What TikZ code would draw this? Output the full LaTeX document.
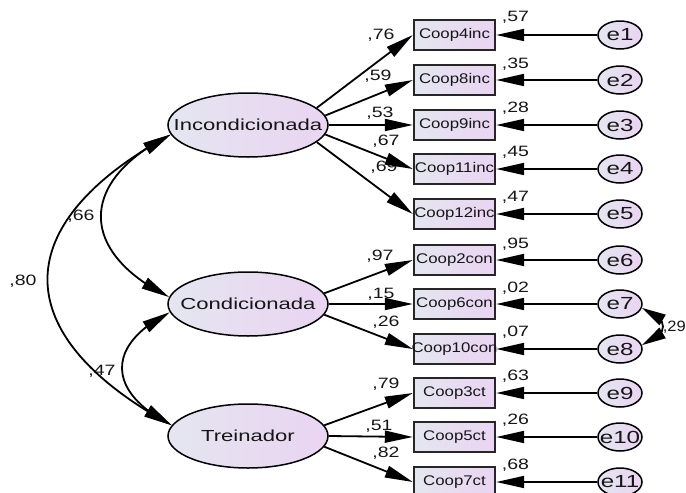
\documentclass[tikz,border=0pt]{standalone}
\usepackage{fontspec}
\setmainfont{Liberation Sans}
% Horizontally widened faces for the diagram labels
\newfontfamily\latentfont[FakeStretch=1.38]{Liberation Sans}
\newfontfamily\itemfont[FakeStretch=1.2]{Liberation Sans}
\newfontfamily\coeffont[FakeStretch=1.3]{Liberation Sans}
\newfontfamily\narrowcoeffont[FakeStretch=1.1]{Liberation Sans}
\usetikzlibrary{shapes.geometric,arrows.meta,bending}

\definecolor{fillL}{RGB}{228,230,240}
\definecolor{fillR}{RGB}{234,212,242}
\definecolor{ink}{RGB}{22,22,22}

% node text that may spill over its border without widening the shape
\newcommand\bare[1]{\makebox[0pt]{#1}}

\tikzset{
  latent/.style={ellipse, draw=black, line width=1.5pt, left color=fillL, right color=fillR,
    minimum width=160pt, minimum height=64pt, inner sep=0pt,
    font=\latentfont\fontsize{16}{16}\selectfont, text=ink},
  item/.style={rectangle, draw=black!85, line width=2.4pt, left color=fillL, right color=fillR,
    minimum width=81pt, minimum height=30pt, inner sep=0pt,
    font=\itemfont\fontsize{14}{14}\selectfont, text=ink},
  err/.style={ellipse, draw=black, line width=1.5pt, left color=fillL, right color=fillR,
    minimum width=44pt, minimum height=28pt, inner sep=0pt,
    font=\latentfont\fontsize{17.5}{17.5}\selectfont, text=ink},
  coef/.style={inner sep=0pt, font=\coeffont\fontsize{15}{15}\selectfont, text=ink},
  regr/.style={line width=1.8pt, -{Triangle[length=28pt,width=12pt]}},
  covar/.style={line width=1.8pt,
    {Triangle[length=28pt,width=12pt]}-{Triangle[length=28pt,width=12pt]}},
  ecovar/.style={line width=1.8pt,
    {Triangle[length=24pt,width=12pt]}-{Triangle[length=24pt,width=12pt]}},
}

\begin{document}
\begin{tikzpicture}[x=1pt,y=-1pt]
\path[use as bounding box, clip] (0,0) rectangle (686,493);

% latent factors
\node[latent] (inc)   at (248,125) {\bare{Incondicionada}};
\node[latent] (cond)  at (248,304) {\bare{Condicionada}};
\node[latent] (trein) at (248,436) {\bare{Treinador}};

% observed indicators
\node[item] (b1)  at (454.5,35)  {\bare{Coop4inc}};
\node[item] (b2)  at (454.5,80)  {\bare{Coop8inc}};
\node[item] (b3)  at (454.5,125) {\bare{Coop9inc}};
\node[item] (b4)  at (454.5,169) {\bare{Coop11inc}};
\node[item] (b5)  at (454.5,214) {\bare{Coop12inc}};
\node[item] (b6)  at (454.5,260) {\bare{Coop2con}};
\node[item] (b7)  at (454.5,304) {\bare{Coop6con}};
\node[item] (b8)  at (454.5,349) {\bare{Coop10con}};
\node[item] (b9)  at (454.5,393) {\bare{Coop3ct}};
\node[item] (b10) at (454.5,437) {\bare{Coop5ct}};
\node[item] (b11) at (454.5,482) {\bare{Coop7ct}};

% error terms
\foreach \i/\y in {1/35,2/80,3/125,4/169,5/214,6/260,7/304,8/349,9/393,10/437,11/482}
  \node[err] (e\i) at (620,\y) {\bare{e\i}};

% standardized loadings
\node[coef] (l1)  at (381,35)  {,76};
\node[coef] (l2)  at (378,76)  {,59};
\node[coef] (l3)  at (380,113) {,53};
\node[coef] (l4)  at (386,141) {,67};
\node[coef] (l5)  at (384,167) {,69};
\node[coef] (l6)  at (380,256) {,97};
\node[coef] (l7)  at (381,294) {,15};
\node[coef] (l8)  at (386,322) {,26};
\node[coef] (l9)  at (386,384) {,79};
\node[coef] (l10) at (379,426) {,51};
\node[coef] (l11) at (386,453) {,82};

% squared multiple correlations
\foreach \i/\y/\v in {1/17/57,2/64/35,3/108/28,4/152/45,5/197/47,6/244/95,
                      7/288/02,8/332/07,9/376/63,10/420/26,11/465/68}
  \node[coef] (r\i) at (515.5,\y) {,\v};

% correlations
\node[coef] (c1) at (81,216)  {,66};
\node[coef] (c2) at (23,281)  {,80};
\node[coef] (c3) at (102,371) {,47};
\node[coef, font=\narrowcoeffont\fontsize{15}{15}\selectfont, anchor=east] (c4) at (686,327) {,29};

% factor loadings
\draw[regr] (inc.14)  -- (b1.west);
\draw[regr] (inc.7)   -- (b2.west);
\draw[regr] (inc.0)   -- (b3.west);
\draw[regr] (inc.353) -- (b4.west);
\draw[regr] (inc.346) -- (b5.west);
\draw[regr] (cond.8)   -- (b6.west);
\draw[regr] (cond.0)   -- (b7.west);
\draw[regr] (cond.352) -- (b8.west);
\draw[regr] (trein.8)   -- (b9.west);
\draw[regr] (trein.0)   -- (b10.west);
\draw[regr] (trein.352) -- (b11.west);

% error paths
\foreach \i in {1,...,11}
  \draw[regr] (e\i) -- (b\i);

% factor covariances
\draw[covar] (inc.187) .. controls +(-165,90) and +(-165,-90) .. (trein.172);
\draw[covar] (inc.187) .. controls +(-92,46) and +(-92,-46) .. (cond.175);
\draw[covar] (cond.186) .. controls +(-65,33) and +(-65,-33) .. (trein.172);

% error covariance
\draw[ecovar] (e7.350) .. controls +(28,10) and +(28,-10) .. (e8.10);
\end{tikzpicture}
\end{document}
